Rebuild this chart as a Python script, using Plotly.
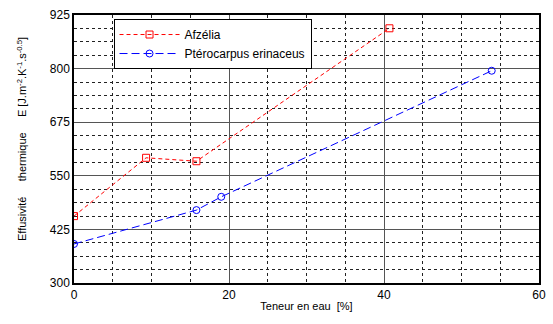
import plotly.graph_objects as go

afz_x = [0, 9.3, 15.8, 40.7]
afz_y = [456, 592, 584, 894]
pte_x = [0, 15.8, 19.0, 53.9]
pte_y = [391, 470, 501, 795]

x_ticks = [0, 20, 40, 60]
y_ticks = [300, 425, 550, 675, 800, 925]

fig = go.Figure()
fig.add_trace(go.Scatter(x=afz_x, y=afz_y, name="Afzélia", mode="lines+markers",
                         line=dict(color="red", dash="4px,3px", width=1),
                         marker=dict(symbol="square-open", size=7, color="red", line=dict(width=1))))
fig.add_trace(go.Scatter(x=pte_x, y=pte_y, name="Ptérocarpus erinaceus", mode="lines+markers",
                         line=dict(color="blue", dash="8px,4px", width=1),
                         marker=dict(symbol="circle-open", size=7, color="blue", line=dict(width=1))))

fig.update_layout(
    width=553, height=324,
    margin=dict(l=74, r=14, t=15, b=41, autoexpand=False),
    plot_bgcolor="white", paper_bgcolor="white",
    font=dict(family="Liberation Sans, Arial", size=11, color="black"),
    showlegend=True,
    legend=dict(x=0.085, y=0.985, xanchor="left", yanchor="top",
                bgcolor="white", bordercolor="black", borderwidth=1,
                font=dict(size=12), tracegroupgap=0, itemwidth=60),
    annotations=[dict(text="Effusivité     thermique     E [J.m<sup>-2</sup>.K<sup>-1</sup>.s<sup>-0.5</sup>]",
                      xref="paper", yref="paper", x=-0.112, y=0.537, textangle=-90,
                      xanchor="center", yanchor="middle", showarrow=False,
                      font=dict(size=11))],
)
fig.update_xaxes(range=[0, 60], tickvals=x_ticks, showline=True, mirror=True, automargin=False,
                 linecolor="black", linewidth=1.5, showgrid=True, gridcolor="#555", gridwidth=1,
                 zeroline=False, ticks="", ticklen=0, tickfont=dict(size=12),
                 minor=dict(dtick=5, showgrid=True, griddash="dot", gridcolor="#222", gridwidth=1),
                 title=dict(text="Teneur en eau  [%]", font=dict(size=11), standoff=1))
fig.update_yaxes(range=[300, 925], tickvals=y_ticks, showline=True, mirror=True, automargin=False,
                 linecolor="black", linewidth=1.5, showgrid=True, gridcolor="#555", gridwidth=1,
                 zeroline=False, ticks="", tickfont=dict(size=12),
                 minor=dict(dtick=31.25, tick0=300, showgrid=True, griddash="dot", gridcolor="#222", gridwidth=1))

fig.write_html("out.html", config={"displayModeBar": False},
               post_script="document.body.style.margin='0';document.body.style.overflow='hidden';")
